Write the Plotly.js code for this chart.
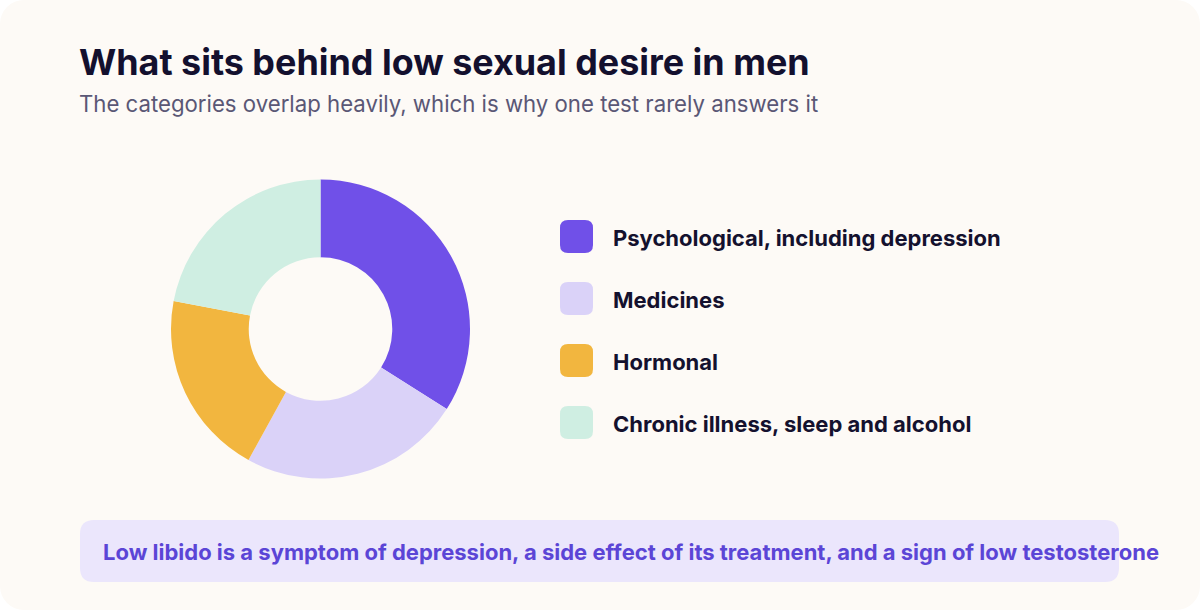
<!DOCTYPE html>
<html><head><meta charset="utf-8">
<script src="https://cdn.plot.ly/plotly-3.0.1.min.js"></script>
<style>
html,body{margin:0;padding:0;background:#ffffff;}
#chart{width:1200px;height:610px;border-radius:24px;overflow:hidden;}
</style></head>
<body><div id="chart"></div>
<script>
const categories = ["Psychological, including depression", "Medicines", "Hormonal", "Chronic illness, sleep and alcohol"];
const shares = [34, 24, 20, 22];
const colors = ["#7050E8", "#DAD2F8", "#F2B63F", "#CFEEE2"];
const titleText = "What sits behind low sexual desire in men";
const subtitleText = "The categories overlap heavily, which is why one test rarely answers it";
const noteText = "Low libido is a symptom of depression, a side effect of its treatment, and a sign of low testosterone";

const W = 1200, H = 610;
const FONT = "Inter, 'Open Sans', sans-serif";
const px = x => x / W, py = y => 1 - y / H;

const shapes = [];
const annotations = [];

function roundRect(x0, y0, x1, y1, r) {
  const X = v => px(v), Y = v => py(v);
  return `M${X(x0+r)},${Y(y0)} L${X(x1-r)},${Y(y0)} Q${X(x1)},${Y(y0)} ${X(x1)},${Y(y0+r)} ` +
         `L${X(x1)},${Y(y1-r)} Q${X(x1)},${Y(y1)} ${X(x1-r)},${Y(y1)} L${X(x0+r)},${Y(y1)} ` +
         `Q${X(x0)},${Y(y1)} ${X(x0)},${Y(y1-r)} L${X(x0)},${Y(y0+r)} Q${X(x0)},${Y(y0)} ${X(x0+r)},${Y(y0)} Z`;
}

// legend
categories.forEach((c, i) => {
  const cy = 237 + i * 62;
  shapes.push({type: "path", xref: "paper", yref: "paper", layer: "above",
    path: roundRect(560, cy - 17, 593, cy + 16, 8), line: {width: 0}, fillcolor: colors[i]});
  annotations.push({xref: "paper", yref: "paper", x: px(611), y: py(cy + 1), xanchor: "left", yanchor: "middle",
    text: "<b>" + c + "</b>", showarrow: false, font: {family: FONT, size: 22, color: "#14112E"}});
});

// banner
shapes.push({type: "path", xref: "paper", yref: "paper", layer: "below",
  path: roundRect(80, 520, 1119, 582, 14), line: {width: 0}, fillcolor: "#EBE6FC"});
annotations.push({xref: "paper", yref: "paper", x: px(101), y: py(552), xanchor: "left", yanchor: "middle",
  text: "<b>" + noteText + "</b>", showarrow: false, font: {family: FONT, size: 22, color: "#5B45D6"}});

// titles
annotations.push({xref: "paper", yref: "paper", x: px(77), y: py(62), xanchor: "left", yanchor: "middle",
  text: "<b>" + titleText + "</b>", showarrow: false, font: {family: FONT, size: 35.9, color: "#13102E"}});
annotations.push({xref: "paper", yref: "paper", x: px(77), y: py(103), xanchor: "left", yanchor: "middle",
  text: subtitleText, showarrow: false, font: {family: FONT, size: 22.2, color: "#5A5775"}});

const data = [{
  type: "pie", labels: categories, values: shares, hole: 0.48, sort: false, direction: "clockwise",
  rotation: 0, marker: {colors: colors, line: {width: 0}}, textinfo: "none", hoverinfo: "label+percent",
  showlegend: false,
  domain: {x: [px(171), px(470)], y: [py(479), py(179)]}
}];

const layout = {
  width: W, height: H, margin: {l: 0, r: 0, t: 0, b: 0},
  paper_bgcolor: "#FDFAF6", plot_bgcolor: "#FDFAF6",
  shapes: shapes, annotations: annotations, showlegend: false
};
Plotly.newPlot("chart", data, layout, {displayModeBar: false, staticPlot: true});
</script></body></html>
